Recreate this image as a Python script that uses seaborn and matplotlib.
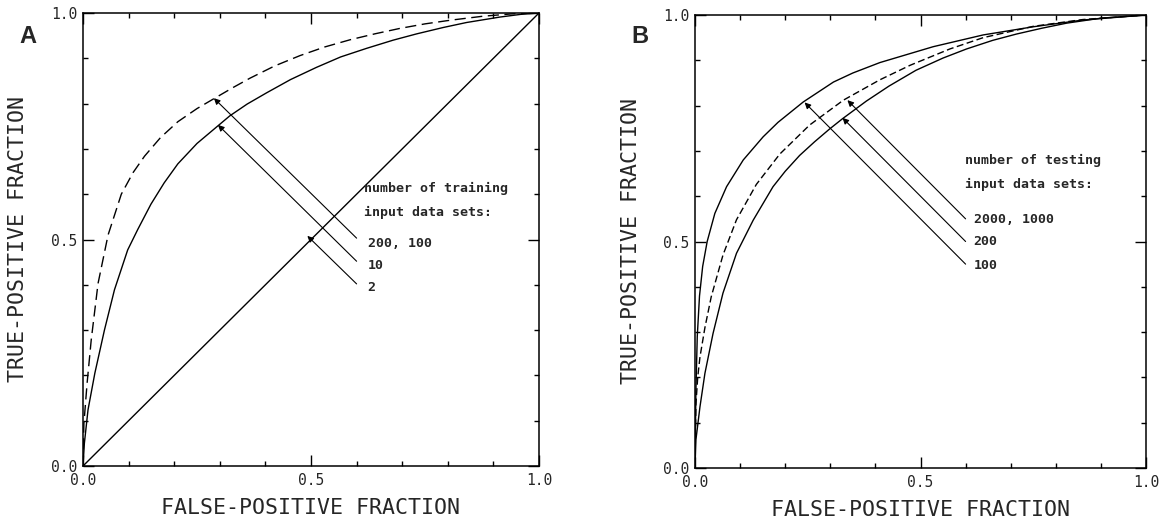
import matplotlib

matplotlib.use("Agg")
import matplotlib.pyplot as plt
import matplotlib.ticker as mtick
import pandas as pd
import seaborn as sns

# ---- panel A : ROC curves vs. number of training input data sets ----
a_100_fpf = [0, 0.002, 0.009, 0.018, 0.033, 0.055, 0.084, 0.11, 0.135, 0.17,
             0.208, 0.25, 0.289, 0.33, 0.366, 0.42, 0.476, 0.53, 0.586, 0.64,
             0.695, 0.75, 0.805, 0.878, 0.94, 1.0]
a_100_tpf = [0, 0.094, 0.183, 0.278, 0.403, 0.510, 0.600, 0.648, 0.684, 0.725,
             0.760, 0.789, 0.812, 0.836, 0.856, 0.883, 0.906, 0.925, 0.941, 0.954,
             0.966, 0.976, 0.984, 0.993, 0.998, 1.0]
a_10_fpf = [0, 0.003, 0.011, 0.026, 0.047, 0.069, 0.098, 0.12, 0.149, 0.178,
            0.208, 0.25, 0.296, 0.322, 0.36, 0.403, 0.455, 0.512, 0.565, 0.622,
            0.68, 0.732, 0.79, 0.841, 0.914, 0.96, 1.0]
a_10_tpf = [0, 0.050, 0.124, 0.205, 0.300, 0.389, 0.477, 0.522, 0.578, 0.625,
            0.667, 0.712, 0.751, 0.773, 0.799, 0.824, 0.853, 0.880, 0.903, 0.922,
            0.940, 0.954, 0.968, 0.979, 0.991, 0.997, 1.0]
a_2_fpf = [0, 1.0]
a_2_tpf = [0, 1.0]

# ---- panel B : ROC curves vs. number of testing input data sets ----
b_2000_fpf = [0, 0.002, 0.006, 0.011, 0.022, 0.036, 0.062, 0.092, 0.136, 0.188,
              0.254, 0.329, 0.41, 0.477, 0.565, 0.639, 0.75, 0.86, 1.0]
b_2000_tpf = [0, 0.140, 0.200, 0.245, 0.310, 0.378, 0.470, 0.548, 0.626, 0.693,
              0.757, 0.812, 0.857, 0.889, 0.925, 0.950, 0.975, 0.990, 1.0]
b_200_fpf = [0, 0.002, 0.011, 0.022, 0.040, 0.062, 0.092, 0.129, 0.173, 0.2,
             0.232, 0.265, 0.298, 0.327, 0.38, 0.43, 0.49, 0.55, 0.602, 0.66,
             0.713, 0.77, 0.824, 0.9, 1.0]
b_200_tpf = [0, 0.062, 0.135, 0.209, 0.297, 0.386, 0.474, 0.547, 0.621, 0.655,
             0.690, 0.720, 0.748, 0.771, 0.810, 0.843, 0.878, 0.905, 0.925, 0.944,
             0.958, 0.971, 0.982, 0.993, 1.0]
b_100_fpf = [0, 0.002, 0.005, 0.010, 0.017, 0.027, 0.044, 0.07, 0.107, 0.151,
             0.184, 0.240, 0.307, 0.35, 0.41, 0.528, 0.639, 0.75, 0.861, 1.0]
b_100_tpf = [0, 0.170, 0.290, 0.380, 0.445, 0.500, 0.562, 0.621, 0.680, 0.731,
             0.763, 0.808, 0.852, 0.872, 0.895, 0.930, 0.956, 0.974, 0.989, 1.0]

# legend text and arrows (start at the label, tip on the curve)
a_title = ["number of training", "input data sets:"]
a_title_xy = (0.617, [0.612, 0.560])
a_labels = ["200, 100", "10", "2"]
a_label_xy = (0.624, [0.491, 0.443, 0.393])
a_arrow_start = [(0.6, 0.503), (0.6, 0.452), (0.6, 0.402)]
a_arrow_tip = [(0.287, 0.812), (0.296, 0.753), (0.492, 0.508)]

b_title = ["number of testing", "input data sets:"]
b_title_xy = (0.599, [0.678, 0.627])
b_labels = ["2000, 1000", "200", "100"]
b_label_xy = (0.618, [0.548, 0.499, 0.448])
b_arrow_start = [(0.6, 0.55), (0.6, 0.5), (0.6, 0.45)]
b_arrow_tip = [(0.338, 0.812), (0.327, 0.773), (0.243, 0.807)]


def long_frame(curves):
    parts = []
    for name, fpf, tpf in curves:
        parts.append(pd.DataFrame({"fpf": fpf, "tpf": tpf, "curve": name}))
    return pd.concat(parts, ignore_index=True)


df_a = long_frame([("200,100", a_100_fpf, a_100_tpf),
                   ("10", a_10_fpf, a_10_tpf),
                   ("2", a_2_fpf, a_2_tpf)])
df_b = long_frame([("2000,1000", b_2000_fpf, b_2000_tpf),
                   ("200", b_200_fpf, b_200_tpf),
                   ("100", b_100_fpf, b_100_tpf)])

sns.set_theme(style="ticks")
plt.rcParams["font.family"] = ["DejaVu Sans Mono"]
plt.rcParams["axes.linewidth"] = 1.1

fig = plt.figure(figsize=(11.73, 5.26), dpi=100)
ax_a = fig.add_axes([83 / 1173, 60 / 526, 456 / 1173, 453 / 526])
ax_b = fig.add_axes([695 / 1173, 58 / 526, 451 / 1173, 453 / 526])

sns.lineplot(data=df_a, x="fpf", y="tpf", style="curve",
             dashes={"200,100": (8, 4), "10": "", "2": ""},
             color="black", lw=1.0, estimator=None, sort=False,
             legend=False, ax=ax_a)
sns.lineplot(data=df_b, x="fpf", y="tpf", style="curve",
             dashes={"2000,1000": (5, 2.5), "200": "", "100": ""},
             color="black", lw=1.0, estimator=None, sort=False,
             legend=False, ax=ax_b)


def style_panel(ax, letter, title, title_xy, labels, label_xy, starts, tips):
    ax.set_xlim(0, 1)
    ax.set_ylim(0, 1)
    ax.xaxis.set_major_locator(mtick.FixedLocator([0, 0.5, 1.0]))
    ax.yaxis.set_major_locator(mtick.FixedLocator([0, 0.5, 1.0]))
    ax.xaxis.set_minor_locator(mtick.MultipleLocator(0.1))
    ax.yaxis.set_minor_locator(mtick.MultipleLocator(0.1))
    ax.xaxis.set_major_formatter(mtick.FormatStrFormatter("%.1f"))
    ax.yaxis.set_major_formatter(mtick.FormatStrFormatter("%.1f"))
    ax.tick_params(which="both", direction="in", top=True, right=True,
                   color="black", width=1.0)
    ax.tick_params(which="major", length=8, labelsize=10.5)
    ax.tick_params(axis="x", which="major", pad=5)
    ax.tick_params(axis="y", which="major", pad=4)
    ax.tick_params(which="minor", length=3.5)
    for sp in ax.spines.values():
        sp.set_color("black")

    ax.set_xlabel("FALSE-POSITIVE FRACTION", fontsize=15.5)
    ax.set_ylabel("TRUE-POSITIVE FRACTION", fontsize=15.5)
    ax.xaxis.label.set_va("center")
    ax.yaxis.label.set_va("center")
    ax.xaxis.set_label_coords(0.5, -0.093)
    ax.yaxis.set_label_coords(-0.142, 0.5)

    tx, tys = title_xy
    for line, y in zip(title, tys):
        ax.text(tx, y, line, fontsize=9.5, fontweight="bold",
                ha="left", va="center")
    lx, lys = label_xy
    for lab, y in zip(labels, lys):
        ax.text(lx, y, lab, fontsize=9.5, fontweight="bold",
                ha="left", va="center")
    for s, t in zip(starts, tips):
        ax.annotate("", xy=t, xytext=s,
                    arrowprops=dict(arrowstyle="-|>", color="black", lw=0.8,
                                    mutation_scale=9, shrinkA=0, shrinkB=0))

    fig.text(ax.get_position().x0 - 0.047, 0.93, letter, fontsize=17,
             fontweight="bold", family=["Liberation Sans", "DejaVu Sans"],
             ha="center", va="center")


style_panel(ax_a, "A", a_title, a_title_xy, a_labels, a_label_xy,
            a_arrow_start, a_arrow_tip)
style_panel(ax_b, "B", b_title, b_title_xy, b_labels, b_label_xy,
            b_arrow_start, b_arrow_tip)

fig.savefig("out.png", dpi=100, facecolor="white")
